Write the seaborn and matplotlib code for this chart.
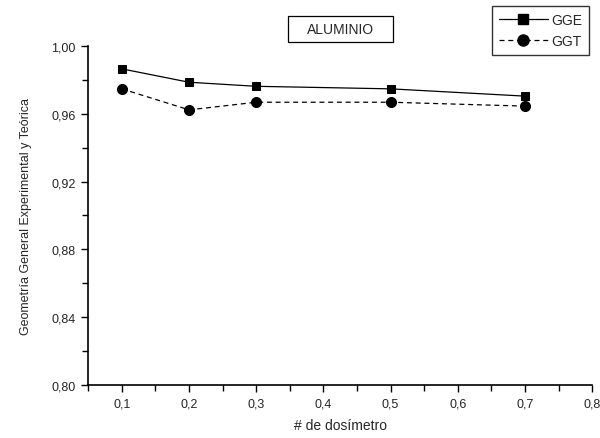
import matplotlib
matplotlib.use("Agg")
import matplotlib.pyplot as plt
import matplotlib.ticker as mticker
from matplotlib.lines import Line2D
from matplotlib.patches import Rectangle
import pandas as pd
import seaborn as sns

# datos
dosimetro = [0.1, 0.2, 0.3, 0.5, 0.7]
gge = [0.9865, 0.9786, 0.9762, 0.9747, 0.9704]
ggt = [0.9747, 0.9623, 0.9668, 0.9668, 0.9645]
series = ["GGE", "GGT"]

df = pd.DataFrame({
    "x": dosimetro * 2,
    "y": gge + ggt,
    "serie": [series[0]] * len(gge) + [series[1]] * len(ggt),
})

sns.set_theme(style="ticks")
plt.rcParams["font.family"] = ["Liberation Sans", "DejaVu Sans"]

fig = plt.figure(figsize=(6, 4.39), dpi=100)
ax = fig.add_axes([0.147, 0.121, 0.840, 0.772])

sns.lineplot(
    data=df, x="x", y="y", hue="serie", style="serie",
    markers={"GGE": "s", "GGT": "o"},
    dashes={"GGE": "", "GGT": (4, 3)},
    palette={"GGE": "black", "GGT": "black"},
    linewidth=0.9, legend=False, ax=ax,
)
# tamaños de marcador distintos para cuadrado y circulo
for ln, ms in zip(ax.lines, [6.2, 7.2]):
    ln.set_markersize(ms)
    ln.set_markeredgecolor("black")

ax.set_xlim(0.05, 0.8)
ax.set_ylim(0.80, 1.00)
ax.set_xticks([0.1, 0.2, 0.3, 0.4, 0.5, 0.6, 0.7, 0.8])
ax.xaxis.set_minor_locator(mticker.MultipleLocator(0.05))
ax.yaxis.set_major_locator(mticker.MultipleLocator(0.04))
ax.yaxis.set_minor_locator(mticker.MultipleLocator(0.02))

ax.xaxis.set_major_formatter(mticker.FuncFormatter(lambda v, p: f"{v:.1f}".replace(".", ",")))
ax.yaxis.set_major_formatter(mticker.FuncFormatter(lambda v, p: f"{v:.2f}".replace(".", ",")))

ax.tick_params(which="major", direction="out", length=5, width=1, labelsize=9, color="black", pad=4)
ax.tick_params(which="minor", direction="out", length=4, width=1, color="black")

for s in ["top", "right"]:
    ax.spines[s].set_visible(False)
for s in ["left", "bottom"]:
    ax.spines[s].set_linewidth(1.2)
    ax.spines[s].set_color("black")

ax.set_xlabel("# de dosímetro", fontsize=10, labelpad=6)
ax.set_ylabel("Geometría General Experimental y Teórica", fontsize=9, labelpad=14)

# titulo en recuadro
fig.patches.append(Rectangle((0.480, 0.902), 0.175, 0.059, transform=fig.transFigure,
                             fill=False, ec="black", lw=0.9))
fig.text(0.568, 0.932, "ALUMINIO", ha="center", va="center", fontsize=10)

# leyenda manual
handles = [
    Line2D([], [], color="black", lw=0.9, marker="s", markersize=7),
    Line2D([], [], color="black", lw=0.9, ls=(0, (4, 3)), marker="o", markersize=8),
]
fig.legend(handles, series, loc="upper left", bbox_to_anchor=(0.82, 0.984),
           fontsize=10, frameon=True, fancybox=False, edgecolor="black",
           handlelength=3.5, borderpad=0.5, labelspacing=0.5, handletextpad=0.25,
           borderaxespad=0.0)

fig.savefig("out.png", dpi=100)
